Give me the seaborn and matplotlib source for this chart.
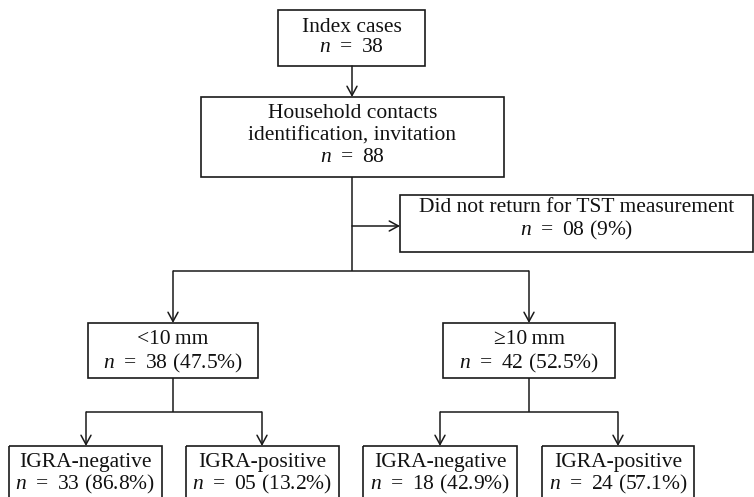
import matplotlib
matplotlib.use("Agg")
import matplotlib.pyplot as plt
import seaborn as sns
from matplotlib.patches import Rectangle

# flowchart contents
stage_labels = ["Index cases", "Household contacts\nidentification, invitation",
                "Did not return for TST measurement", "<10\u2009mm", "\u226510\u2009mm",
                "IGRA-negative", "IGRA-positive", "IGRA-negative", "IGRA-positive"]
stage_n = [38, 88, 8, 38, 42, 33, 5, 18, 24]
stage_pct = [None, None, 9, 47.5, 52.5, 86.8, 13.2, 42.9, 57.1]

sns.set_theme(style="white")
plt.rcParams["font.family"] = ["Liberation Serif", "DejaVu Serif"]
plt.rcParams["mathtext.fontset"] = "custom"
plt.rcParams["mathtext.rm"] = "Liberation Serif"
plt.rcParams["mathtext.it"] = "Liberation Serif:italic"

# box layout in pixels: (left, top, right, bottom), y of first text line, line step
boxes = [
    (278, 10, 425, 66, 27, 20),
    (201, 97, 504, 177, 114, 22),
    (400, 195, 753, 252, 208, 22),
    (88, 323, 258, 378, 340, 23),
    (443, 323, 615, 378, 340, 23),
    (9, 446, 162, 505, 462, 22),
    (186, 446, 339, 505, 462, 22),
    (363, 446, 517, 505, 462, 22),
    (542, 446, 694, 505, 462, 22),
]

fig = plt.figure(figsize=(7.54, 4.97), dpi=100)
ax = fig.add_axes([0, 0, 1, 1])
ax.set_xlim(0, 754)
ax.set_ylim(497, 0)
ax.axis("off")

lc = "#1a1a1a"
fs = 15.5
sp = " \u2009"

for (x0, y0, x1, y1, ty, step), lab, n, p in zip(boxes, stage_labels, stage_n, stage_pct):
    ax.add_patch(Rectangle((x0, y0), x1 - x0, y1 - y0, fill=False, ec=lc, lw=1.2, clip_on=True))
    lines = lab.split("\n")
    ntxt = "$n$" + sp + "=" + sp + "%02d" % n
    if p is not None:
        ntxt += " (%g%%)" % p
    lines.append(ntxt)
    cx = (x0 + x1) / 2
    for i, t in enumerate(lines):
        ax.text(cx, ty + i * step, t, ha="center", va="center", fontsize=fs, color="#111111")


def line(xs, ys):
    ax.plot(xs, ys, color=lc, lw=1.1, solid_capstyle="butt")


def arrow(x0, y0, x1, y1):
    ax.annotate("", xy=(x1, y1), xytext=(x0, y0),
                arrowprops=dict(arrowstyle="->,head_length=0.55,head_width=0.3",
                                color=lc, lw=1.1, shrinkA=0, shrinkB=0))


arrow(352, 66, 352, 97)
line([352, 352], [177, 271])
arrow(352, 226, 400, 226)
line([173, 529], [271, 271])
arrow(173, 271, 173, 323)
arrow(529, 271, 529, 323)

line([173, 173], [378, 412])
line([86, 262], [412, 412])
arrow(86, 412, 86, 446)
arrow(262, 412, 262, 446)

line([529, 529], [378, 412])
line([440, 618], [412, 412])
arrow(440, 412, 440, 446)
arrow(618, 412, 618, 446)

fig.savefig("out.png", dpi=100)
